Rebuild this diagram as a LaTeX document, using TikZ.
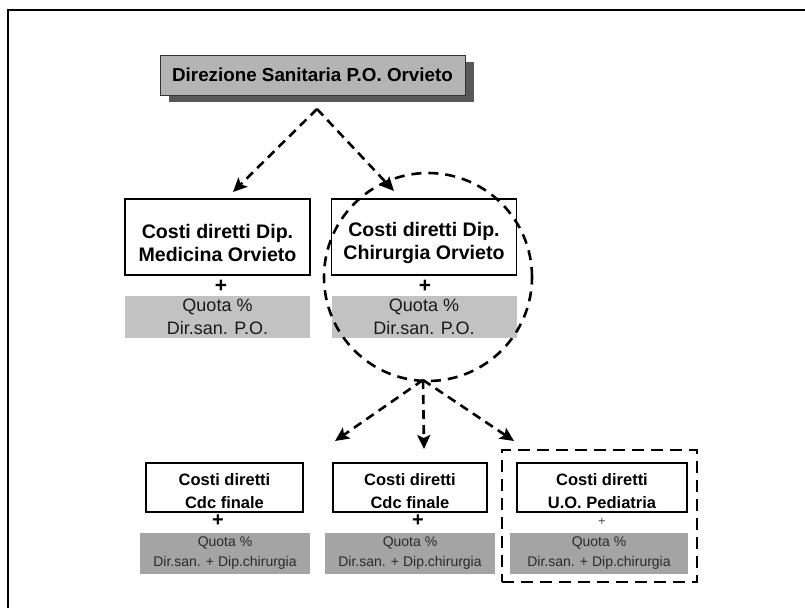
\documentclass[tikz,border=0pt]{standalone}
\usepackage{fontspec}
\setmainfont{Liberation Sans}
\usetikzlibrary{arrows.meta,shadows}
\definecolor{topgray}{HTML}{B4B4B4}
\definecolor{shadowgray}{HTML}{585858}
\definecolor{midgray}{HTML}{C2C2C2}
\definecolor{botgray}{HTML}{A4A4A4}
\definecolor{bottext}{HTML}{2A2A2A}
\newcommand{\lowstrut}{\rule{0pt}{26pt}}
\newcommand{\botstrut}{\rule{0pt}{19pt}}
\begin{document}
\begin{tikzpicture}[x=1pt,y=-1pt,
  topbox/.style={draw=black!80, line width=1pt, fill=topgray, inner sep=0pt,
    minimum width=305pt, minimum height=40pt,
    font=\bfseries\fontsize{18.8}{22}\selectfont,
    drop shadow={shadow xshift=9pt, shadow yshift=-7pt, fill=shadowgray, opacity=1}},
  midbox/.style={draw=black, line width=1.2pt, fill=white, align=center, inner sep=0pt,
    minimum width=185pt, minimum height=76pt,
    font=\bfseries\fontsize{19.6}{23}\selectfont},
  midquota/.style={fill=midgray, align=center, inner sep=0pt,
    minimum width=185pt, minimum height=42pt,
    font=\fontsize{18}{22.5}\selectfont, text=black!90},
  botbox/.style={draw=black, line width=1.2pt, fill=white, align=center, inner sep=0pt,
    minimum height=49pt, font=\bfseries\fontsize{16.5}{23.5}\selectfont},
  botquota/.style={fill=botgray, align=center, inner sep=0pt,
    minimum height=41pt, font=\fontsize{14}{20}\selectfont, text=bottext},
  plusmark/.style={inner sep=0pt, font=\bfseries\fontsize{21}{21}\selectfont},
  dasharrow/.style={line width=2.6pt, dash pattern=on 9pt off 6pt,
    -{Stealth[length=14pt,width=13pt,inset=3pt]}},
  ringstyle/.style={draw, circle, line width=2.6pt, dash pattern=on 10pt off 7pt,
    minimum size=208pt, inner sep=0pt},
  selbox/.style={draw, line width=2.8pt, dash pattern=on 12pt off 7pt,
    minimum width=195pt, minimum height=132pt, inner sep=0pt}
]
\useasboundingbox (0,0) rectangle (805,608);
\fill[white] (0,0) rectangle (805,608);
% frame (top and left edges)
\draw[line width=1.5pt] (8,608) -- (8,10) -- (805,10);

% top
\node[topbox] (dir) at (312.5,75) {Direzione Sanitaria P.O. Orvieto};

% middle row
\node[midbox] (med) at (217.5,237) {\lowstrut Costi diretti Dip.\\Medicina Orvieto};
\node[midbox] (chi) at (424,237) {\lowstrut Costi diretti Dip.\\Chirurgia Orvieto};
\node[plusmark] (pmed) at (221,286) {+};
\node[plusmark] (pchi) at (425,286) {+};
\node[midquota] (qmed) at (217.5,317) {Quota \%\\Dir.san. P.O.};
\node[midquota] (qchi) at (424,317) {Quota \%\\Dir.san. P.O.};

% ring
\node[ringstyle] (ring) at (428,277) {};

% bottom row
\node[selbox] (sel) at (599.5,516) {};
\node[botbox, minimum width=157pt] (c1) at (224.5,487.5) {\botstrut Costi diretti\\Cdc finale};
\node[botbox, minimum width=154pt] (c2) at (410,487.5) {\botstrut Costi diretti\\Cdc finale};
\node[botbox, minimum width=170pt] (c3) at (602,487.5) {\botstrut Costi diretti\\U.O. Pediatria};
\node[plusmark, font=\bfseries\fontsize{20}{20}\selectfont] (p1) at (218,521) {+};
\node[plusmark, font=\bfseries\fontsize{20}{20}\selectfont] (p2) at (418,521) {+};
\node[plusmark, font=\fontsize{13}{13}\selectfont, text=black!70] (p3) at (602,522) {+};
\node[botquota, minimum width=170pt] (g1) at (225,553.5) {Quota \%\\Dir.san. + Dip.chirurgia};
\node[botquota, minimum width=170pt] (g2) at (410,553.5) {Quota \%\\Dir.san. + Dip.chirurgia};
\node[botquota, minimum width=178pt] (g3) at (599,553.5) {Quota \%\\Dir.san. + Dip.chirurgia};

% connectors
\coordinate (apex1) at (317,109);
\coordinate (tipmed) at (233,192);
\coordinate (tipchi) at (394,191);
\draw[dasharrow] (apex1) -- (tipmed);
\draw[dasharrow] (apex1) -- (tipchi);

\coordinate (apex2) at (423,380);
\coordinate (tip1) at (335,441);
\coordinate (tip2) at (424,449);
\coordinate (tip3) at (514,441);
\draw[dasharrow] (apex2) -- (tip1);
\draw[dasharrow] (apex2) -- (tip2);
\draw[dasharrow] (apex2) -- (tip3);
\end{tikzpicture}
\end{document}
